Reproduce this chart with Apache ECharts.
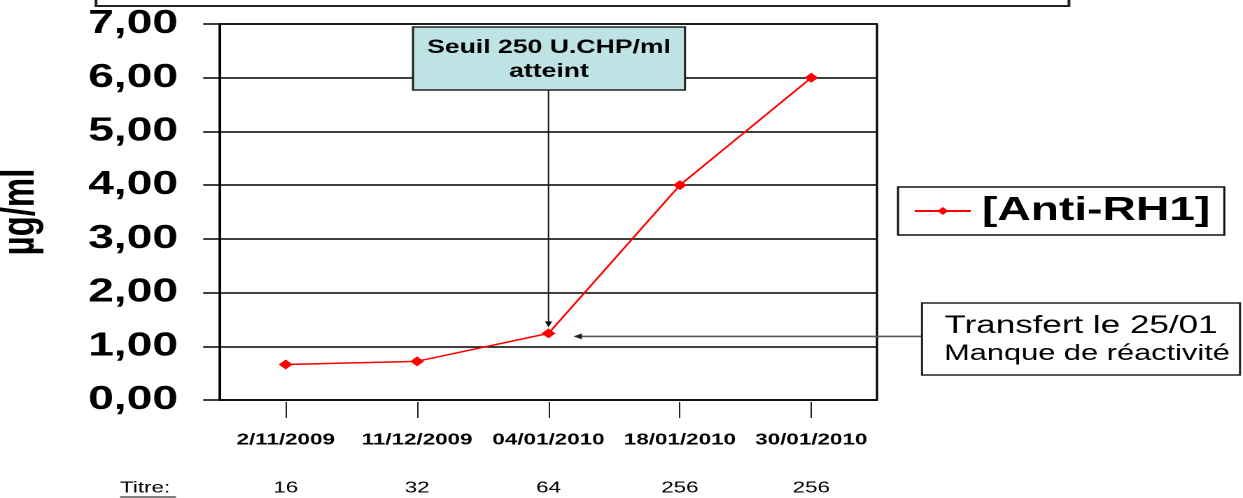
<!DOCTYPE html>
<html>
<head>
<meta charset="utf-8">
<script src="https://cdn.jsdelivr.net/npm/echarts@6/dist/echarts.min.js"></script>
<style>
  html, body { margin: 0; padding: 0; background: #fff; }
  #wrap { width: 1243px; height: 498px; overflow: hidden; position: relative; }
  /* the chart is laid out on a narrower canvas and widened to the page */
  #chart { width: 888px; height: 498px; transform: scaleX(1.39977); transform-origin: 0 0; }
</style>
</head>
<body>
<div id="wrap"><div id="chart"></div></div>
<script>
// sampling dates (category axis)
const dates = ['2/11/2009', '11/12/2009', '04/01/2010', '18/01/2010', '30/01/2010'];
// [Anti-RH1] concentration, µg/ml
const antiRH1 = [0.66, 0.72, 1.24, 4.00, 6.00];
// titre at each date
const titres = ['16', '32', '64', '256', '256'];
// value axis bounds
const yMin = 0, yMax = 7, yStep = 1;

const SX = 1243 / 888;          // horizontal widening of the canvas
const px = x => x / SX;         // page x -> canvas x
const FONT = '"Liberation Sans", Arial, sans-serif';

const chart = echarts.init(document.getElementById('chart'), null, { devicePixelRatio: 2 });

chart.setOption({
  animation: false,
  backgroundColor: '#fff',
  textStyle: { fontFamily: FONT },
  grid: {
    left: px(220), right: 888 - px(877), top: 24, bottom: 98,
    containLabel: false, outerBoundsMode: 'none',
    show: true, borderColor: '#000', borderWidth: 1.6, backgroundColor: 'transparent'
  },
  legend: {
    data: ['[Anti-RH1]'],
    left: px(898), top: 187,
    orient: 'vertical',
    padding: [7, 10, 7, 11],
    borderColor: '#111', borderWidth: 1.5,
    itemWidth: 40, itemHeight: 10,
    textStyle: { fontSize: 33, fontWeight: 'bold', color: '#000', lineHeight: 34, fontFamily: FONT, padding: [0, 0, 0, 3] }
  },
  xAxis: [
    {
      type: 'category', data: dates, position: 'bottom',
      axisLine: { show: true, lineStyle: { color: '#000', width: 1.6 } },
      axisTick: { show: false }, axisLabel: { show: false }, splitLine: { show: false }
    },
    {
      type: 'category', data: dates, position: 'bottom', offset: 2,
      axisLine: { show: false },
      axisTick: { show: true, alignWithLabel: true, length: 16, lineStyle: { color: '#222', width: 1 } },
      axisLabel: { show: true, interval: 0, margin: 30, fontSize: 16, fontWeight: 'bold', color: '#000', fontFamily: FONT },
      splitLine: { show: false }
    },
    {
      type: 'category', data: titres, position: 'bottom', offset: 2,
      axisLine: { show: false }, axisTick: { show: false },
      axisLabel: { show: true, interval: 0, margin: 78, fontSize: 16, color: '#000', fontFamily: FONT },
      splitLine: { show: false }
    }
  ],
  yAxis: {
    type: 'value', min: yMin, max: yMax, interval: yStep,
    name: 'µg/ml', nameLocation: 'middle', nameRotate: 90, nameGap: 126,
    nameTextStyle: { fontSize: 33, fontWeight: 'bold', color: '#000', fontFamily: FONT },
    axisLine: { show: true, lineStyle: { color: '#000', width: 1.7 } },
    axisTick: { show: true, length: 12, lineStyle: { color: '#000', width: 1.5 } },
    axisLabel: {
      margin: 30, fontSize: 33, fontWeight: 'bold', color: '#000', fontFamily: FONT,
      formatter: v => v.toFixed(2).replace('.', ',')
    },
    splitLine: { show: true, lineStyle: { color: '#000', width: 1.5 } }
  },
  series: [{
    name: '[Anti-RH1]', type: 'line', xAxisIndex: 0,
    data: antiRH1,
    symbol: 'diamond', symbolSize: 10,
    itemStyle: { color: '#ff0000' },
    lineStyle: { color: '#ff0000', width: 1.5 },
    z: 5
  }]
});

// annotation boxes and arrows, anchored on the 04/01/2010 point
const p = chart.convertToPixel({ seriesIndex: 0 }, [2, antiRH1[2]]);
const downTip = p[1] - 6;
const leftTipX = p[0] + px(25);
const arrowY = p[1] + 3;

chart.setOption({
  graphic: [
    // frame of the heading box above the chart
    { type: 'rect', shape: { x: px(96), y: -20, width: px(1069 - 96), height: 26 },
      style: { fill: 'none', stroke: '#222', lineWidth: 2 }, z: 10 },

    // "Seuil" callout
    { type: 'line', shape: { x1: p[0], y1: 90, x2: p[0], y2: downTip - 5 },
      style: { stroke: '#111', lineWidth: 1 }, z: 10 },
    { type: 'polygon', shape: { points: [[p[0] - 2.6, downTip - 6], [p[0] + 2.6, downTip - 6], [p[0], downTip]] },
      style: { fill: '#111' }, z: 10 },
    { type: 'rect', shape: { x: px(413), y: 27, width: px(685 - 413), height: 63 },
      style: { fill: '#bde3e4', stroke: '#222', lineWidth: 1.5 }, z: 11 },
    { type: 'text', x: px(549), y: 48, z: 12,
      style: { text: 'Seuil 250 U.CHP/ml', fontSize: 19, fontWeight: 'bold', fontFamily: FONT,
               fill: '#000', align: 'center', verticalAlign: 'middle' } },
    { type: 'text', x: px(549), y: 72, z: 12,
      style: { text: 'atteint', fontSize: 19, fontWeight: 'bold', fontFamily: FONT,
               fill: '#000', align: 'center', verticalAlign: 'middle' } },

    // "Transfert" callout
    { type: 'line', shape: { x1: px(922), y1: arrowY, x2: leftTipX + 5, y2: arrowY },
      style: { stroke: '#555', lineWidth: 1.6 }, z: 10 },
    { type: 'polygon', shape: { points: [[leftTipX + 6, arrowY - 3], [leftTipX + 6, arrowY + 3], [leftTipX, arrowY]] },
      style: { fill: '#222' }, z: 10 },
    { type: 'rect', shape: { x: px(922), y: 303, width: px(1240 - 922), height: 72 },
      style: { fill: '#fff', stroke: '#222', lineWidth: 1.5 }, z: 11 },
    { type: 'text', x: px(1081), y: 326, z: 12,
      style: { text: 'Transfert le 25/01', fontSize: 25, fontFamily: FONT,
               fill: '#000', align: 'center', verticalAlign: 'middle' } },
    { type: 'text', x: px(1087), y: 354, z: 12,
      style: { text: 'Manque de réactivité', fontSize: 22, fontFamily: FONT,
               fill: '#000', align: 'center', verticalAlign: 'middle' } },

    // row heading for the titres
    { type: 'text', x: px(120), y: 488, z: 12,
      style: { text: 'Titre:', fontSize: 16, fontFamily: FONT, fill: '#000',
               align: 'left', verticalAlign: 'middle' } },
    { type: 'line', shape: { x1: px(120), y1: 497, x2: px(176), y2: 497 },
      style: { stroke: '#000', lineWidth: 1 }, z: 12 }
  ]
});
</script>
</body>
</html>
